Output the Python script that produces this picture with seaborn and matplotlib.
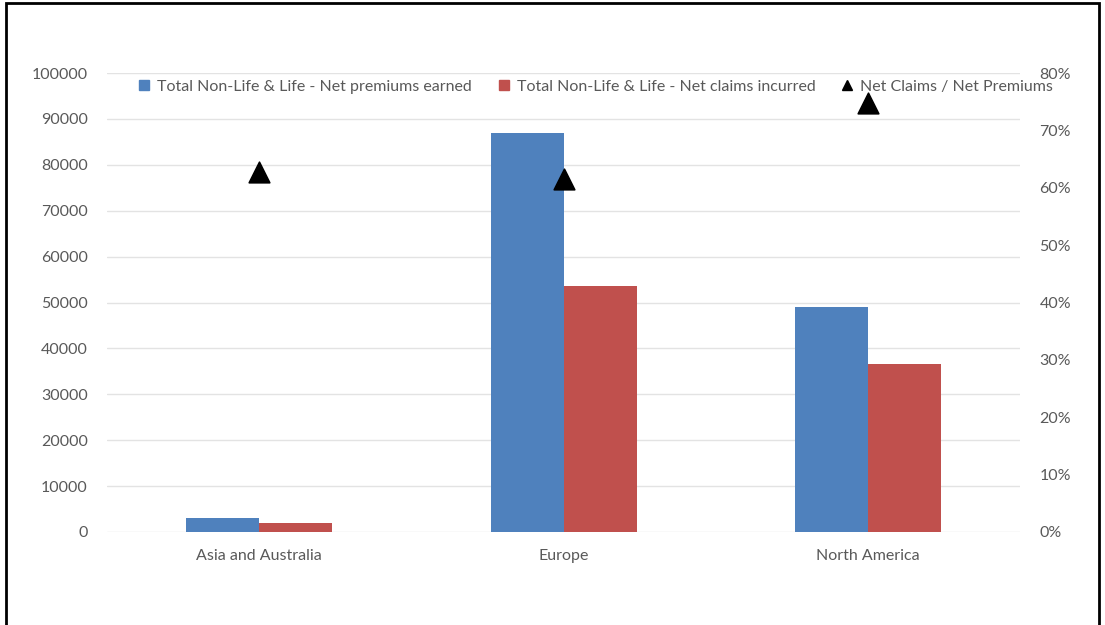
import pandas as pd
import matplotlib.pyplot as plt
import seaborn as sns
from matplotlib.patches import Rectangle
from matplotlib.lines import Line2D
from matplotlib.ticker import PercentFormatter

regions = ['Asia and Australia', 'Europe', 'North America']
premiums = [3000, 86900, 49000]
claims = [2000, 53500, 36500]
ratio = [62.7, 61.5, 74.8]

s_prem = 'Total Non-Life & Life - Net premiums earned'
s_claim = 'Total Non-Life & Life - Net claims incurred'
s_ratio = 'Net Claims / Net Premiums'

df = pd.DataFrame({
    'Region': regions * 2,
    'Value': premiums + claims,
    'Series': [s_prem] * 3 + [s_claim] * 3,
})

sns.set_theme(style="white")
plt.rcParams['font.family'] = ['Lato', 'DejaVu Sans']
text_color = '#595959'
blue = '#4f81bd'
red = '#c0504d'

fig = plt.figure(figsize=(11.05, 6.25), dpi=100)
ax = fig.add_axes([0.097, 0.149, 0.826, 0.734])

sns.barplot(data=df, x='Region', y='Value', hue='Series', palette=[blue, red],
            width=0.48, saturation=1, legend=False, linewidth=0, ax=ax)
ax.set_ylim(0, 100000)
ax.set_yticks(range(0, 100001, 10000))
ax.grid(axis='y', color='#e3e3e3', linewidth=1)
ax.set_axisbelow(True)
ax.set_xlabel('')
ax.set_ylabel('')
ax.tick_params(axis='both', length=0, labelsize=11.5, labelcolor=text_color)
ax.tick_params(axis='y', pad=14)
ax.tick_params(axis='x', pad=12)
for sp in ax.spines.values():
    sp.set_visible(False)

ax2 = ax.twinx()
sns.scatterplot(x=regions, y=ratio, marker='^', color='black', s=220,
                edgecolor='black', ax=ax2, legend=False, zorder=5)
ax2.set_ylim(0, 80)
ax2.set_yticks(range(0, 81, 10))
ax2.yaxis.set_major_formatter(PercentFormatter(decimals=0))
ax2.tick_params(axis='y', length=0, labelsize=11.5, labelcolor=text_color, pad=14)
ax2.grid(False)
for sp in ax2.spines.values():
    sp.set_visible(False)
ax.set_xlim(-0.5, 2.5)

handles = [
    Line2D([], [], marker='s', color=blue, linestyle='', markersize=7),
    Line2D([], [], marker='s', color=red, linestyle='', markersize=7),
    Line2D([], [], marker='^', color='black', linestyle='', markersize=7),
]
fig.legend(handles, [s_prem, s_claim, s_ratio], loc='center',
           bbox_to_anchor=(0.539, 0.861), ncol=3, frameon=False,
           fontsize=11.5, labelcolor=text_color, handlelength=0.8,
           handletextpad=0.4, columnspacing=1.6)

fig.add_artist(Rectangle((0.005, -0.02), 0.99, 1.015, transform=fig.transFigure,
                         fill=False, edgecolor='black', linewidth=2))

fig.savefig('out.png', dpi=100)
